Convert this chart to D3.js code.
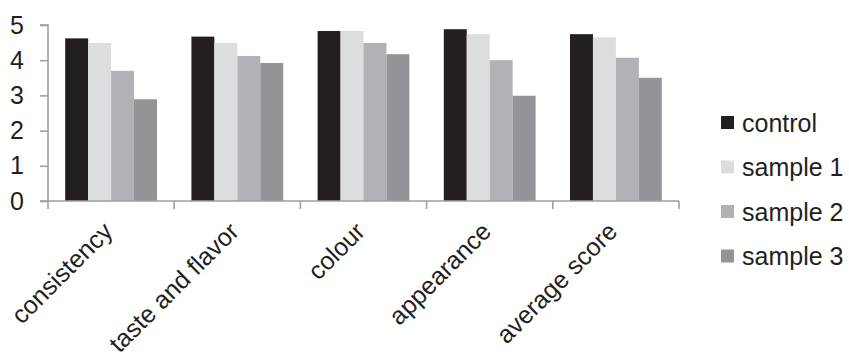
<!DOCTYPE html>
<html>
<head>
<meta charset="utf-8">
<script src="https://cdn.jsdelivr.net/npm/d3@7"></script>
<style>
  html, body { margin: 0; padding: 0; background: #fff; }
  svg { display: block; }
  text { font-family: "Liberation Sans", Arial, sans-serif; fill: #231f20; }
</style>
</head>
<body>
<svg id="chart" width="849" height="360"></svg>
<script>
// Sensory scores per attribute
const categories = ["consistency", "taste and flavor", "colour", "appearance", "average score"];
const seriesNames = ["control", "sample 1", "sample 2", "sample 3"];
const control = [4.62, 4.67, 4.83, 4.88, 4.74];
const sample1 = [4.49, 4.49, 4.83, 4.74, 4.65];
const sample2 = [3.70, 4.12, 4.49, 4.00, 4.07];
const sample3 = [2.89, 3.92, 4.17, 2.99, 3.50];
const yTicks = [0, 1, 2, 3, 4, 5];
const colors = ["#231f20", "#dcdddf", "#b1b2b5", "#939497"];

const seriesValues = [control, sample1, sample2, sample3];

const svg = d3.select("#chart");
const plot = { left: 48, right: 679, top: 25, bottom: 201 };
const axisColor = "#9d9fa2";
const fontSize = "25px";

const x0 = d3.scaleBand().domain(categories).range([plot.left, plot.right]).paddingInner(0).paddingOuter(0);
// 4 bars per category with a gap of 1.5 bar widths (0.75 on each side)
const x1 = d3.scaleBand().domain(seriesNames).range([0, x0.bandwidth()]).paddingInner(0).paddingOuter(0.75);
const y = d3.scaleLinear().domain([0, 5]).range([plot.bottom, plot.top]);

// bars
const groups = svg.append("g").selectAll("g")
  .data(categories)
  .join("g")
  .attr("transform", d => `translate(${x0(d)},0)`);

groups.selectAll("rect")
  .data((c, i) => seriesNames.map((s, j) => ({ s, v: seriesValues[j][i], j })))
  .join("rect")
  .attr("x", d => x1(d.s))
  .attr("width", x1.bandwidth())
  .attr("y", d => y(d.v))
  .attr("height", d => y(0) - y(d.v))
  .attr("fill", d => colors[d.j]);

// y axis
const yAxis = svg.append("g")
  .attr("transform", `translate(${plot.left},0)`)
  .call(d3.axisLeft(y).tickValues(yTicks).tickSize(8).tickPadding(16).tickFormat(d3.format("d")));
yAxis.select(".domain").attr("stroke", axisColor).attr("stroke-width", 1.6).attr("d", `M-8,${plot.top}H0V${plot.bottom}`);
yAxis.selectAll(".tick line").attr("stroke", axisColor).attr("stroke-width", 1.6);
yAxis.selectAll(".tick text").style("font-size", fontSize).attr("fill", "#231f20");

// x axis
const edges = categories.map(c => x0(c)).concat([plot.right]);
const xAxisG = svg.append("g");
xAxisG.append("line")
  .attr("x1", plot.left - 8).attr("x2", plot.right)
  .attr("y1", plot.bottom).attr("y2", plot.bottom)
  .attr("stroke", axisColor).attr("stroke-width", 1.6);
xAxisG.selectAll("line.tk")
  .data(edges)
  .join("line")
  .attr("class", "tk")
  .attr("x1", d => d).attr("x2", d => d)
  .attr("y1", plot.bottom).attr("y2", plot.bottom + 8)
  .attr("stroke", axisColor).attr("stroke-width", 1.6);

xAxisG.selectAll("text")
  .data(categories)
  .join("text")
  .attr("text-anchor", "end")
  .attr("transform", d => `translate(${x0(d) + x0.bandwidth() / 2 + 3},${plot.bottom + 32}) rotate(-45)`)
  .style("font-size", fontSize)
  .text(d => d);

// legend
const legend = svg.append("g").attr("transform", "translate(721,0)");
const rowY = [123, 167.5, 212, 256.5];
const items = legend.selectAll("g")
  .data(seriesNames)
  .join("g")
  .attr("transform", (d, i) => `translate(0,${rowY[i]})`);
items.append("rect")
  .attr("x", 0).attr("y", -7).attr("width", 13).attr("height", 13)
  .attr("fill", (d, i) => colors[i]);
items.append("text")
  .attr("x", 21).attr("dy", "0.35em")
  .style("font-size", fontSize)
  .text(d => d);
</script>
</body>
</html>
